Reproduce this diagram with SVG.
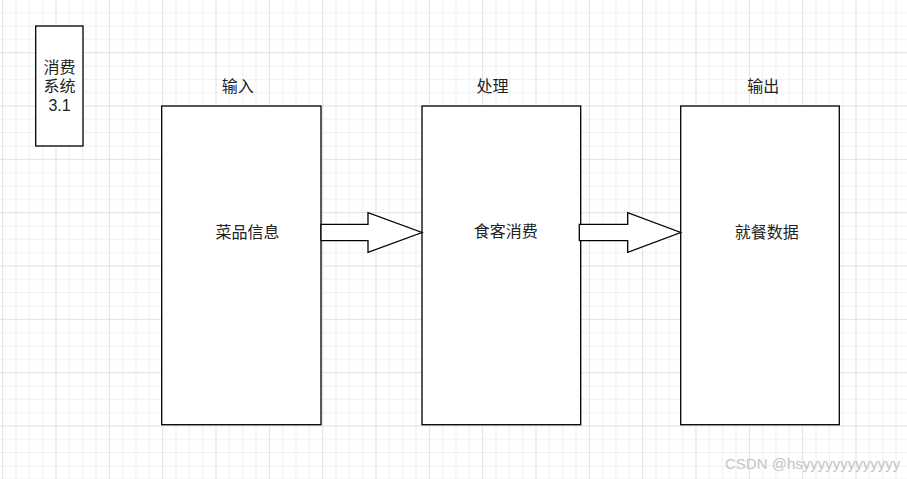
<svg xmlns="http://www.w3.org/2000/svg" width="907" height="479" viewBox="0 0 907 479">
<defs>
<pattern id="grid" patternUnits="userSpaceOnUse" x="2.17" y="-1.17" width="53.333" height="53.333">
<path d="M13.83 0V53.333M27.17 0V53.333M40.5 0V53.333M0 13.83H53.333M0 27.17H53.333M0 40.5H53.333" stroke="#f0f0f0" stroke-width="1" fill="none"/>
<path d="M0.5 0V53.333M0 0.5H53.333" stroke="#e0e0e0" stroke-width="1" fill="none"/>
</pattern>
<style>
.box{fill:#fff;stroke:#000;stroke-width:1.3}
.arrow{fill:#fff;stroke:#000;stroke-width:1.3;stroke-linejoin:miter}
.t{font-family:"Liberation Sans","Noto Sans CJK SC",sans-serif;font-size:16px;fill:#222;text-anchor:middle}
.wm{font-family:"Liberation Sans","Noto Sans CJK SC",sans-serif;font-size:15px;fill:#c4c4c4}
</style>
</defs>
<rect width="907" height="479" fill="#fff"/>
<rect width="907" height="479" fill="url(#grid)"/>

<g id="system">
<rect class="box" x="35.7" y="26" width="47.3" height="120"/>
<text class="t" x="59.5" y="73">消费</text>
<text class="t" x="59.5" y="92">系统</text>
<text class="t" x="59.5" y="110.7">3.1</text>
</g>

<g id="label-input"><text class="t" x="237.7" y="91.5">输入</text></g>
<g id="label-process"><text class="t" x="492.5" y="91.5">处理</text></g>
<g id="label-output"><text class="t" x="763.3" y="91.5">输出</text></g>

<g id="input">
<rect class="box" x="161.7" y="106" width="159.3" height="318.7"/>
<text class="t" x="247.5" y="237.5">菜品信息</text>
</g>
<g id="process">
<rect class="box" x="422" y="106" width="158.7" height="318.7"/>
<text class="t" x="505.7" y="237.2">食客消费</text>
</g>
<g id="output">
<rect class="box" x="680.7" y="106" width="158.6" height="318.7"/>
<text class="t" x="766.7" y="237.5">就餐数据</text>
</g>

<g id="connectors">
<polygon class="arrow" points="321,224.3 368,224.3 368,212.7 422,232.5 368,252.3 368,240.7 321,240.7"/>
<polygon class="arrow" points="579.3,224.3 627.7,224.3 627.7,212.7 680.7,232.5 627.7,252.3 627.7,240.7 579.3,240.7"/>
</g>

<text class="wm" x="725" y="469">CSDN @hsyyyyyyyyyyyyy</text>
</svg>
